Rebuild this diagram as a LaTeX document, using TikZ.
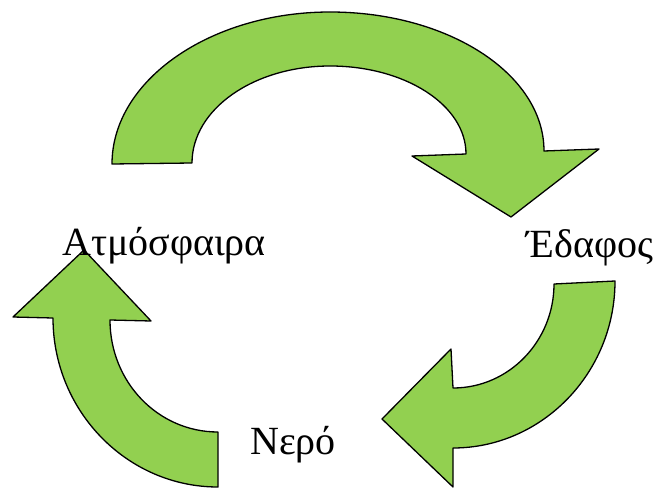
\documentclass[tikz,border=0pt]{standalone}
\usepackage{fontspec}
\setmainfont{Liberation Serif}
\usepackage{xcolor}
\usepackage{tikz}
\usetikzlibrary{positioning}

\definecolor{leafgreen}{RGB}{146,208,80}

\tikzset{
  cyclearrow/.style={fill=leafgreen, draw=black, line width=1.3pt, line join=round},
  phase/.style={font=\fontsize{40}{42}\selectfont, anchor=base, inner sep=0pt}
}

\begin{document}
\begin{tikzpicture}[x=1pt, y=1pt]
    \useasboundingbox (0,0) rectangle (661,488);

    % Atmosfaira -> Edafos (top arrow)
    \draw[cyclearrow] (112,324) .. controls (112,408) and (211,476) .. (330,476)
        .. controls (448,476) and (544,414) .. (544,337)
        -- (599,339) -- (511,271) -- (412,332) -- (466,334)
        .. controls (466,383) and (405,422) .. (330,422)
        .. controls (254,422) and (192,379) .. (192,325) -- cycle;

    % Edafos -> Nero (right arrow)
    \draw[cyclearrow] (615,207) .. controls (615,115) and (542,40) .. (453,40)
        -- (453,1) -- (382,69) -- (451,139) -- (453,100)
        .. controls (509,100) and (554,147) .. (554,204) -- cycle;

    % Nero -> Atmosfaira (left arrow)
    \draw[cyclearrow] (218,1) .. controls (127,1) and (53,77) .. (53,170)
        -- (13,171) -- (84,238) -- (151,167) -- (110,168)
        .. controls (110,106) and (158,56) .. (218,56) -- cycle;

    \node[phase] (atm) at (164,233) {Ατμόσφαιρα};
    \node[phase] (edafos) at (590,231) {Έδαφος};
    \node[phase] (nero) at (293,34) {Νερό};
\end{tikzpicture}
\end{document}
